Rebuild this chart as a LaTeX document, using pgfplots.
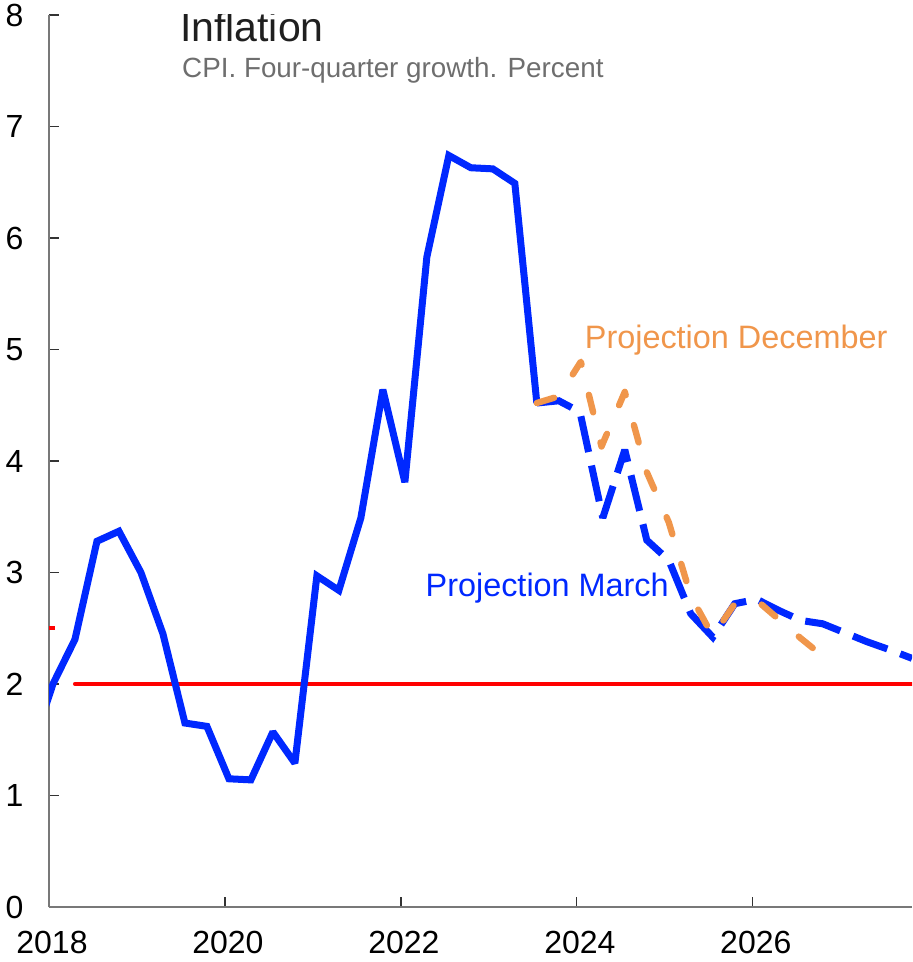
\documentclass[border=0pt]{standalone}
\usepackage{pgfplots}
\pgfplotsset{compat=1.18}
\usepackage{fontspec}
\setmainfont{Liberation Sans}[Ligatures={NoCommon}, RawFeature={-liga;-clig}]
\definecolor{cblue}{RGB}{0,40,255}
\definecolor{corange}{RGB}{240,150,75}
\definecolor{subgray}{RGB}{110,110,110}
\definecolor{axgray}{RGB}{120,120,120}
\begin{document}
\begin{tikzpicture}
\begin{axis}[
 name=ax,
 scale only axis, width=431.5pt, height=446pt,
 xmin=2018, xmax=2027.81, ymin=0, ymax=8,
 axis x line=bottom, axis y line=left,
 axis line style={draw=axgray, line width=0.8pt, -},
 xtick={2018,2020,2022,2024,2026},
 ytick={0,1,2,3,4,5,6,7,8},
 tick align=inside, major tick length=5pt,
 tick style={black!80, line width=0.6pt},
 x tick label style={/pgf/number format/1000 sep={}},
 /pgf/number format/assume math mode=true,
 ticklabel style={font=\fontsize{16}{19}\selectfont},
 xticklabel style={yshift=-8.5pt, xshift=1.5pt},
 yticklabel style={xshift=-9.2pt},
]
% inflation target
\addplot[red, line width=2pt, line cap=butt] coordinates {(2017.8,2.5) (2018.07,2.5)};
\addplot[red, line width=2pt, line cap=round] coordinates {(2018.295,2) (2027.81,2)};
% history
\addplot[cblue, line width=3.5pt, line join=miter, miter limit=2] coordinates {
(2017.795,1.4) (2018.045,2.0) (2018.295,2.4) (2018.545,3.28) (2018.795,3.37)
(2019.045,3.0) (2019.295,2.45) (2019.545,1.65) (2019.795,1.62)
(2020.045,1.15) (2020.295,1.14) (2020.545,1.57) (2020.795,1.29)
(2021.045,2.97) (2021.295,2.84) (2021.545,3.49) (2021.795,4.64)
(2022.045,3.81) (2022.295,5.83) (2022.545,6.74) (2022.795,6.63)
(2023.045,6.62) (2023.295,6.49) (2023.545,4.52)};
% projection March
\addplot[cblue, line width=3.5pt, line join=miter, miter limit=2, dash pattern=on 18.3pt off 6.9pt] coordinates {
(2023.545,4.52) (2023.795,4.54) (2024.035,4.44) (2024.295,3.49) (2024.545,4.10)
(2024.795,3.29) (2025.045,3.11) (2025.295,2.63) (2025.545,2.42) (2025.795,2.72)
(2026.045,2.76) (2026.295,2.66) (2026.545,2.57) (2026.795,2.54) (2027.045,2.46)
(2027.295,2.38) (2027.545,2.31) (2027.81,2.23)};
% projection December
\addplot[corange, line width=3.2pt, line cap=round, line join=round, dash pattern=on 9pt off 15.5pt] coordinates {
(2023.545,4.52) (2023.795,4.58) (2024.045,4.89) (2024.28,4.13) (2024.545,4.62)
(2024.795,3.90) (2025.045,3.45) (2025.295,2.79) (2025.545,2.43) (2025.795,2.72)
(2026.045,2.75) (2026.295,2.58) (2026.545,2.41) (2026.795,2.25)};
\node[anchor=base west, inner sep=0, text=black!88, font=\fontsize{20.5}{24}\selectfont] at (axis cs:2019.485,7.758) {Infla\kern0pt t\kern0pt ion};
\node[anchor=base west, inner sep=0, text=subgray, font=\fontsize{13.9}{16}\selectfont] at (axis cs:2019.51,7.435) {CPI. Four-quarter growth. Percent};
\node[anchor=base west, inner sep=0, text=corange, font=\fontsize{16.2}{19}\selectfont] at (axis cs:2024.087,5.01) {Projection December};
\node[anchor=base west, inner sep=0, text=cblue, font=\fontsize{16.2}{19}\selectfont] at (axis cs:2022.277,2.783) {Projection March};
\end{axis}
\pgfresetboundingbox
\path ([xshift=-24.5pt,yshift=-27.5pt]ax.south west) rectangle ([yshift=7.5pt]ax.north east);
\end{tikzpicture}
\end{document}
